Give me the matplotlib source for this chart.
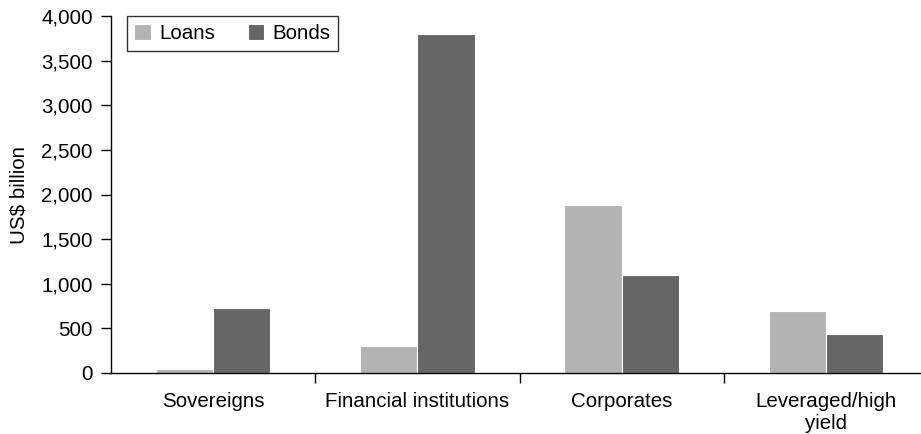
import numpy as np
import matplotlib.pyplot as plt
from matplotlib.ticker import FuncFormatter, FixedLocator

plt.rcParams['font.family'] = ['Liberation Sans', 'DejaVu Sans']
plt.rcParams['font.size'] = 14.8

categories = ["Sovereigns", "Financial institutions", "Corporates", "Leveraged/high\nyield"]
loans = [40, 300, 1880, 690]
bonds = [730, 3800, 1100, 440]

loan_color = "#b3b3b3"
bond_color = "#666666"

fig = plt.figure(figsize=(9.21, 4.34), dpi=100)
ax = fig.add_axes([111 / 921, 61 / 434, 817 / 921, 357 / 434])

x = np.arange(len(categories))
w = 0.28
ax.bar(x - w / 2, loans, w, color=loan_color, edgecolor="white", linewidth=0.8, label="Loans")
ax.bar(x + w / 2, bonds, w, color=bond_color, edgecolor="white", linewidth=0.8, label="Bonds")

ax.set_xlim(-0.5, len(categories) - 0.5)
ax.set_ylim(0, 4000)
ax.set_yticks(np.arange(0, 4001, 500))
ax.yaxis.set_major_formatter(FuncFormatter(lambda v, p: f"{int(v):,}"))
ax.set_ylabel("US$ billion", labelpad=9)

# labels at category centres, tick marks on the boundaries
ax.set_xticks(x)
ax.set_xticklabels(categories, linespacing=1.15)
ax.tick_params(axis="x", which="major", length=0, pad=14)
ax.xaxis.set_minor_locator(FixedLocator(np.arange(0.5, len(categories) - 0.5, 1)))
ax.tick_params(axis="x", which="minor", length=7, width=1, direction="out")
ax.tick_params(axis="y", length=7, width=1, direction="out", pad=6)

for s in ["top", "right"]:
    ax.spines[s].set_visible(False)
for s in ["left", "bottom"]:
    ax.spines[s].set_linewidth(1)

leg = ax.legend(loc="upper left", bbox_to_anchor=(0.019, 1.0), ncol=2, frameon=True,
                fancybox=False, edgecolor="black", handlelength=0.8, handleheight=0.8,
                columnspacing=1.6, handletextpad=0.4, borderpad=0.38, borderaxespad=0)
leg.get_frame().set_linewidth(1)

fig.savefig("out.png", dpi=100)
